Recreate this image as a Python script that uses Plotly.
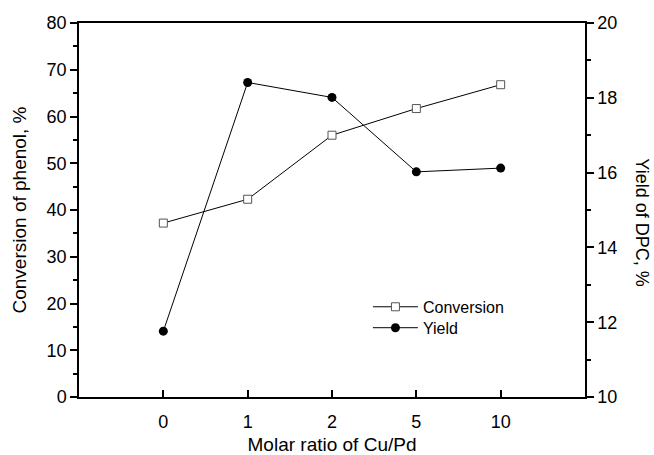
import plotly.graph_objects as go

categories = ["0", "1", "2", "5", "10"]
conversion = [37.2, 42.3, 56.0, 61.7, 66.8]
yield_dpc = [11.76, 18.41, 18.01, 16.02, 16.12]
left_ticks = [0, 10, 20, 30, 40, 50, 60, 70, 80]
right_ticks = [10, 12, 14, 16, 18, 20]

FONT = "Liberation Sans, Arial, sans-serif"
xpos = list(range(len(categories)))

fig = go.Figure()
fig.add_trace(go.Scatter(
    x=xpos, y=conversion, name="Conversion", mode="lines+markers",
    line=dict(color="black", width=1),
    marker=dict(symbol="square", size=8, color="white",
                line=dict(color="#555555", width=1)),
    yaxis="y", legend="legend",
))
fig.add_trace(go.Scatter(
    x=xpos, y=yield_dpc, name="Yield", mode="lines+markers",
    line=dict(color="black", width=1),
    marker=dict(symbol="circle", size=9, color="black",
                line=dict(color="black", width=0)),
    yaxis="y2", legend="legend2",
))

leg_common = dict(
    xanchor="left", yanchor="middle",
    bgcolor="rgba(0,0,0,0)", borderwidth=0,
    font=dict(family=FONT, size=16, color="black"),
    itemwidth=45,
)

fig.update_layout(
    width=654, height=455,
    margin=dict(l=79, r=69, t=23, b=58, autoexpand=False),
    paper_bgcolor="white", plot_bgcolor="white",
    font=dict(family=FONT, color="black", size=18),
    showlegend=True,
    legend=dict(x=0.571, y=0.241, **leg_common),
    legend2=dict(x=0.571, y=0.185, **leg_common),
    xaxis=dict(
        range=[-1, 5], tickmode="array", tickvals=xpos, ticktext=categories,
        ticks="inside", ticklen=7, tickwidth=1.5, tickcolor="black",
        showline=True, linecolor="black", linewidth=1.5, mirror=True,
        showgrid=False, zeroline=False, automargin=False,
        tickfont=dict(size=18),
        title=dict(text="Molar ratio of Cu/Pd", font=dict(size=19), standoff=6),
        ticklabelstandoff=8,
    ),
    yaxis=dict(
        range=[0, 80], tickmode="array", tickvals=left_ticks,
        ticks="outside", ticklen=7, tickwidth=1.5, tickcolor="black",
        minor=dict(dtick=5, ticks="outside", ticklen=4, tickwidth=1.5, tickcolor="black", showgrid=False),
        showline=True, linecolor="black", linewidth=1.5,
        showgrid=False, zeroline=False, automargin=False,
        tickfont=dict(size=18),
        title=dict(text="Conversion of phenol, %", font=dict(size=19), standoff=15),
    ),
    yaxis2=dict(
        range=[10, 20], tickmode="array", tickvals=right_ticks,
        overlaying="y", side="right",
        ticks="outside", ticklen=7, tickwidth=1.5, tickcolor="black",
        minor=dict(dtick=1, ticks="outside", ticklen=4, tickwidth=1.5, tickcolor="black", showgrid=False),
        showline=True, linecolor="black", linewidth=1.5,
        showgrid=False, zeroline=False, automargin=False,
        tickfont=dict(size=18),
    ),
    annotations=[dict(
        text="Yield of DPC, %", textangle=90, showarrow=False,
        xref="paper", yref="paper", x=1.0, xshift=57, y=0.467,
        xanchor="center", yanchor="middle", borderpad=0,
        font=dict(family=FONT, size=18, color="black"),
    )],
)

fig.write_html("out.html")
